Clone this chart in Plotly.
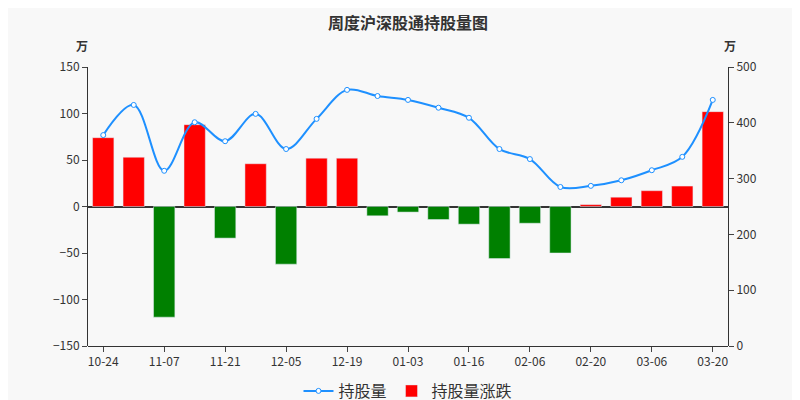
import plotly.graph_objects as go

dates = ["10-24","10-31","11-07","11-14","11-21","11-28","12-05","12-12","12-19","12-26",
         "01-03","01-09","01-16","01-23","02-06","02-13","02-20","02-27","03-06","03-13","03-20"]
change = [74,53,-119,88,-34,46,-62,52,52,-10,-6,-14,-19,-56,-18,-50,2,10,17,22,102]
holding = [378,432,314,401,367,416,353,407,459,448,441,427,409,353,335,285,287,297,315,339,441]
tickvals = dates[::2]

colors = ["#ff0000" if v >= 0 else "#008000" for v in change]

fig = go.Figure()
fig.add_trace(go.Bar(x=dates, y=change, name="持股量涨跌", marker_color=colors, width=0.7, yaxis="y"))
fig.add_trace(go.Scatter(x=dates, y=holding, name="持股量", yaxis="y2", mode="lines+markers",
                         line=dict(color="#1e90ff", width=2, shape="spline", smoothing=1.0),
                         marker=dict(size=5, color="white", line=dict(color="#1e90ff", width=1))))
fig.update_layout(
    width=800, height=400, paper_bgcolor="#f8f8f8", plot_bgcolor="#f8f8f8",
    margin=dict(l=80, r=80, t=59, b=62, autoexpand=False),
    font=dict(family="Noto Sans CJK SC", size=12, color="#333"),
    title=dict(text="<b>周度沪深股通持股量图</b>", x=0.5, y=0.975, xanchor="center", font=dict(size=16)),
    showlegend=True,
    legend=dict(orientation="h", x=0.5, xanchor="center", yref="container", y=0.0, yanchor="bottom",
                font=dict(size=16), traceorder="reversed"),
    xaxis=dict(type="category", tickmode="array", tickvals=tickvals, ticks="outside", showline=True, linecolor="#333",
               anchor="free", position=0, showgrid=False, range=[-0.5, 20.5]),
    yaxis=dict(range=[-150,150], dtick=50, showgrid=False, showline=True, linecolor="#333", ticks="outside",
               zeroline=True, zerolinecolor="#333"),
    yaxis2=dict(range=[0,500], dtick=100, overlaying="y", side="right", showgrid=False, showline=True,
                linecolor="#333", ticks="outside"),
    annotations=[dict(text="<b>万</b>", x=0, xref="paper", y=1.04, yref="paper", showarrow=False, xanchor="right", yanchor="bottom", xshift=2),
                 dict(text="<b>万</b>", x=1, xref="paper", y=1.04, yref="paper", showarrow=False, xanchor="left", yanchor="bottom", xshift=-6)]
)
fig.write_html("out.html")
